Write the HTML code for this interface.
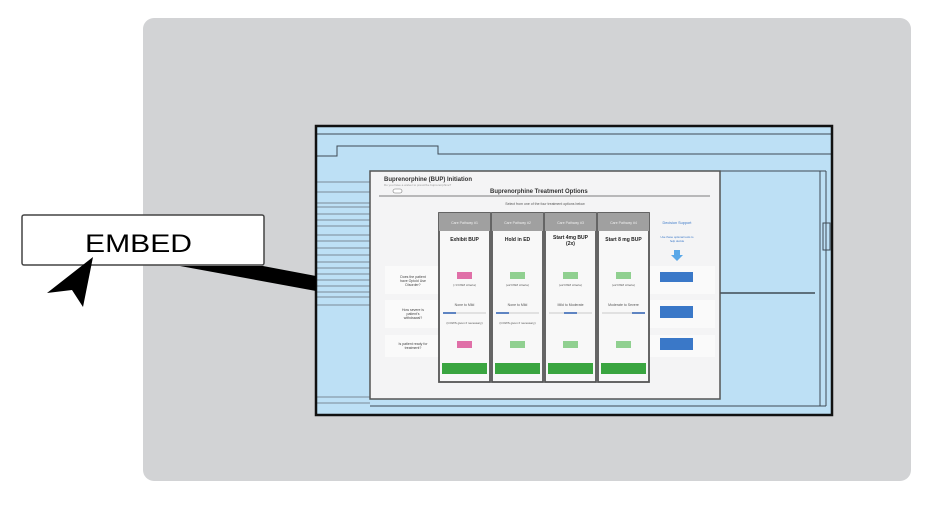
<!DOCTYPE html>
<html><head><meta charset="utf-8"><style>
html,body{margin:0;padding:0;background:#fff;}
svg{display:block;font-family:"Liberation Sans",sans-serif;}
</style></head><body>
<svg width="933" height="505" viewBox="0 0 933 505" xmlns="http://www.w3.org/2000/svg">
<rect x="143" y="18" width="768" height="463" rx="11" fill="#d2d3d5"/>
<!-- screen -->
<rect x="316" y="126" width="516" height="289" fill="#bde0f5"/>
<g stroke="#3e4a55" stroke-width="1" fill="none">
<line x1="316" y1="134" x2="832" y2="134"/>
<polyline points="316,156 337,156 337,146 438,146 438,154 832,154"/>
<g stroke="#7a8a98">
<line x1="316" y1="182" x2="370" y2="182"/><line x1="316" y1="192" x2="370" y2="192"/>
<line x1="316" y1="203" x2="370" y2="203"/><line x1="316" y1="207" x2="370" y2="207"/>
<line x1="316" y1="214" x2="370" y2="214"/><line x1="316" y1="220" x2="370" y2="220"/>
<line x1="316" y1="226" x2="370" y2="226"/><line x1="316" y1="235" x2="370" y2="235"/>
<line x1="316" y1="241" x2="370" y2="241"/><line x1="316" y1="248" x2="370" y2="248"/>
<line x1="316" y1="255" x2="370" y2="255"/><line x1="316" y1="262" x2="370" y2="262"/>
<line x1="316" y1="268" x2="370" y2="268"/><line x1="316" y1="274" x2="370" y2="274"/>
<line x1="316" y1="280" x2="370" y2="280"/><line x1="316" y1="286" x2="370" y2="286"/>
<line x1="316" y1="292" x2="370" y2="292"/><line x1="316" y1="297" x2="370" y2="297"/>
<line x1="316" y1="305" x2="370" y2="305"/><line x1="316" y1="397" x2="370" y2="397"/>
<line x1="316" y1="403" x2="370" y2="403"/>
</g>
<line x1="370" y1="406" x2="826" y2="406"/>
<line x1="720" y1="171" x2="826" y2="171"/>
<line x1="820" y1="171" x2="820" y2="406"/>
<line x1="826" y1="171" x2="826" y2="406"/>
<rect x="823" y="223" width="7" height="27"/>
<line x1="720" y1="293" x2="815" y2="293" stroke-width="1.5"/>
</g>
<rect x="316" y="126" width="516" height="289" fill="none" stroke="#111" stroke-width="2.5"/>
<!-- panel -->
<rect x="370" y="171" width="350" height="228" fill="#f4f4f5" stroke="#555" stroke-width="1.5"/>
<text x="384" y="181" font-size="6" font-weight="bold" fill="#333">Buprenorphine (BUP) Initiation</text>
<text x="384" y="186" font-size="3" fill="#999">Do you have a waiver to prescribe buprenorphine?</text>
<rect x="393" y="189" width="9" height="4" rx="2" fill="#fff" stroke="#777" stroke-width="0.6"/>
<text x="490" y="193" font-size="6" font-weight="bold" fill="#333">Buprenorphine Treatment Options</text>
<line x1="379" y1="196" x2="710" y2="196" stroke="#555" stroke-width="0.8"/>
<text x="545" y="205" font-size="3.5" fill="#555" text-anchor="middle">Select from one of the four treatment options below</text>
<!-- row bands -->
<rect x="385" y="266" width="330" height="28" fill="#fafafa"/>
<rect x="385" y="300" width="330" height="28" fill="#fafafa"/>
<rect x="385" y="335" width="330" height="22" fill="#fafafa"/>
<text x="413" y="278" font-size="3.5" fill="#444" text-anchor="middle">Does the patient</text>
<text x="413" y="282" font-size="3.5" fill="#444" text-anchor="middle">have Opioid Use</text>
<text x="413" y="286" font-size="3.5" fill="#444" text-anchor="middle">Disorder?</text>
<text x="413" y="311" font-size="3.5" fill="#444" text-anchor="middle">How severe is</text>
<text x="413" y="315" font-size="3.5" fill="#444" text-anchor="middle">patient's</text>
<text x="413" y="319" font-size="3.5" fill="#444" text-anchor="middle">withdrawal?</text>
<text x="413" y="345" font-size="3.5" fill="#444" text-anchor="middle">Is patient ready for</text>
<text x="413" y="349" font-size="3.5" fill="#444" text-anchor="middle">treatment?</text>
<!-- columns -->
<g>
<g transform="translate(439,0)">
<rect x="0" y="213" width="51" height="169" fill="#f8f8f8" stroke="#555" stroke-width="1.8"/>
<rect x="0" y="213" width="51" height="18" fill="#a0a0a0"/>
<text x="25.5" y="224" font-size="3.5" fill="#eee" text-anchor="middle">Care Pathway #1</text>
<text x="25.5" y="241" font-size="5" font-weight="bold" fill="#222" text-anchor="middle">Exhibit BUP</text>
<rect x="18" y="272" width="15" height="7" fill="#e070a8"/>
<text x="25.5" y="286" font-size="3" fill="#555" text-anchor="middle">(&lt;3 DSM criteria)</text>
<text x="25.5" y="306" font-size="3.5" fill="#555" text-anchor="middle">None to Mild</text>
<line x1="4" y1="313" x2="47" y2="313" stroke="#bbb" stroke-width="0.8"/>
<line x1="4" y1="313" x2="17" y2="313" stroke="#2a5db0" stroke-width="1.5"/>
<text x="25.5" y="324" font-size="3" fill="#555" text-anchor="middle">(COWS given if necessary)</text>
<rect x="18" y="341" width="15" height="7" fill="#e070a8"/>
<rect x="3" y="363" width="45" height="11" fill="#3aa540"/>
</g>
<g transform="translate(492,0)">
<rect x="0" y="213" width="51" height="169" fill="#f8f8f8" stroke="#555" stroke-width="1.8"/>
<rect x="0" y="213" width="51" height="18" fill="#a0a0a0"/>
<text x="25.5" y="224" font-size="3.5" fill="#eee" text-anchor="middle">Care Pathway #2</text>
<text x="25.5" y="241" font-size="5" font-weight="bold" fill="#222" text-anchor="middle">Hold in ED</text>
<rect x="18" y="272" width="15" height="7" fill="#90d090"/>
<text x="25.5" y="286" font-size="3" fill="#555" text-anchor="middle">(≥2 DSM criteria)</text>
<text x="25.5" y="306" font-size="3.5" fill="#555" text-anchor="middle">None to Mild</text>
<line x1="4" y1="313" x2="47" y2="313" stroke="#bbb" stroke-width="0.8"/>
<line x1="4" y1="313" x2="17" y2="313" stroke="#2a5db0" stroke-width="1.5"/>
<text x="25.5" y="324" font-size="3" fill="#555" text-anchor="middle">(COWS given if necessary)</text>
<rect x="18" y="341" width="15" height="7" fill="#90d090"/>
<rect x="3" y="363" width="45" height="11" fill="#3aa540"/>
</g>
<g transform="translate(545,0)">
<rect x="0" y="213" width="51" height="169" fill="#f8f8f8" stroke="#555" stroke-width="1.8"/>
<rect x="0" y="213" width="51" height="18" fill="#a0a0a0"/>
<text x="25.5" y="224" font-size="3.5" fill="#eee" text-anchor="middle">Care Pathway #3</text>
<text x="25.5" y="239" font-size="5" font-weight="bold" fill="#222" text-anchor="middle">Start 4mg BUP</text>
<text x="25.5" y="245" font-size="5" font-weight="bold" fill="#222" text-anchor="middle">(2x)</text>
<rect x="18" y="272" width="15" height="7" fill="#90d090"/>
<text x="25.5" y="286" font-size="3" fill="#555" text-anchor="middle">(≥2 DSM criteria)</text>
<text x="25.5" y="306" font-size="3.5" fill="#555" text-anchor="middle">Mild to Moderate</text>
<line x1="4" y1="313" x2="47" y2="313" stroke="#bbb" stroke-width="0.8"/>
<line x1="19" y1="313" x2="32" y2="313" stroke="#2a5db0" stroke-width="1.5"/>
<rect x="18" y="341" width="15" height="7" fill="#90d090"/>
<rect x="3" y="363" width="45" height="11" fill="#3aa540"/>
</g>
<g transform="translate(598,0)">
<rect x="0" y="213" width="51" height="169" fill="#f8f8f8" stroke="#555" stroke-width="1.8"/>
<rect x="0" y="213" width="51" height="18" fill="#a0a0a0"/>
<text x="25.5" y="224" font-size="3.5" fill="#eee" text-anchor="middle">Care Pathway #4</text>
<text x="25.5" y="241" font-size="5" font-weight="bold" fill="#222" text-anchor="middle">Start 8 mg BUP</text>
<rect x="18" y="272" width="15" height="7" fill="#90d090"/>
<text x="25.5" y="286" font-size="3" fill="#555" text-anchor="middle">(≥2 DSM criteria)</text>
<text x="25.5" y="306" font-size="3.5" fill="#555" text-anchor="middle">Moderate to Severe</text>
<line x1="4" y1="313" x2="47" y2="313" stroke="#bbb" stroke-width="0.8"/>
<line x1="34" y1="313" x2="47" y2="313" stroke="#2a5db0" stroke-width="1.5"/>
<rect x="18" y="341" width="15" height="7" fill="#90d090"/>
<rect x="3" y="363" width="45" height="11" fill="#3aa540"/>
</g>
</g>
<!-- right column -->
<text x="677" y="224" font-size="3.8" fill="#3a78c8" text-anchor="middle">Decision Support</text>
<text x="677" y="238" font-size="2.8" fill="#3a78c8" text-anchor="middle">Use these optional tools to</text>
<text x="677" y="242" font-size="2.8" fill="#3a78c8" text-anchor="middle">help decide</text>
<path d="M674,250 h6 v5 h3 l-6,6 l-6,-6 h3z" fill="#5aa8e8"/>
<rect x="660" y="272" width="33" height="10" fill="#3a78c8"/>
<rect x="660" y="306" width="33" height="12" fill="#3a78c8"/>
<rect x="660" y="338" width="33" height="12" fill="#3a78c8"/>
<!-- callout -->
<polygon points="180,266 263,266 316,276 316,291" fill="#000"/>
<rect x="22" y="215" width="242" height="50" rx="2" fill="#fff" stroke="#444" stroke-width="1.5"/>
<text x="85" y="252" font-size="25" fill="#000" textLength="107" lengthAdjust="spacingAndGlyphs">EMBED</text>
<polygon points="93,257 47,293 72,290 83,307" fill="#000"/>
</svg>
</body></html>
